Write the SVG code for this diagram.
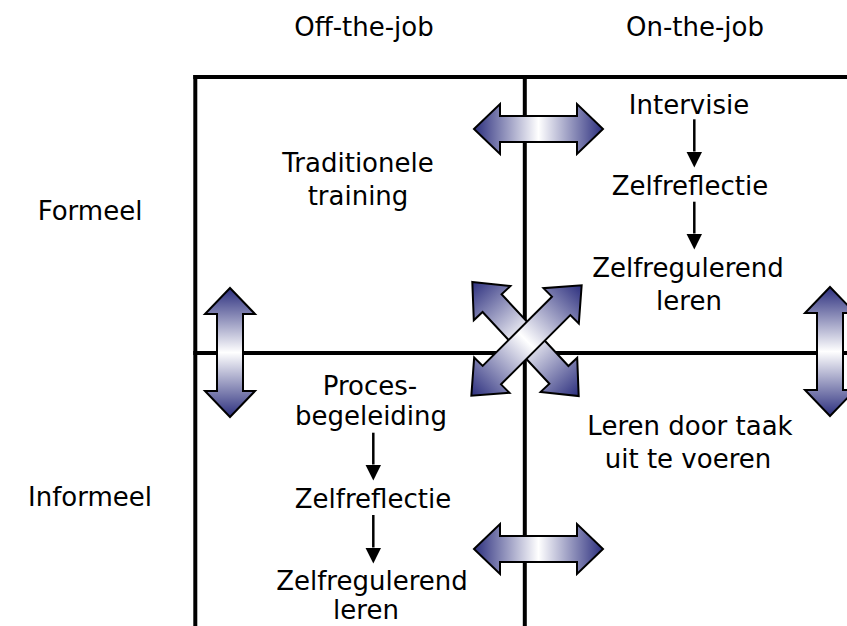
<svg xmlns="http://www.w3.org/2000/svg" xmlns:xlink="http://www.w3.org/1999/xlink" width="847" height="626" viewBox="0 0 847 626">
<style>
  .t { font-family: "DejaVu Sans", Verdana, sans-serif; font-size: 26px; fill: #000; text-anchor: middle; }
  .grid { stroke: #000; stroke-width: 4; fill: none; }
  .conn { stroke: #000; stroke-width: 2.5; fill: none; }
</style>
<defs>
  <linearGradient id="shade" x1="0" y1="0" x2="1" y2="0">
    <stop offset="0" stop-color="#2c2f7e"/>
    <stop offset="0.5" stop-color="#ffffff"/>
    <stop offset="1" stop-color="#2c2f7e"/>
  </linearGradient>
  <path id="dbl" d="M-64.5,0 L-38.5,-25 L-38.5,-13 L38.5,-13 L38.5,-25 L64.5,0 L38.5,25 L38.5,13 L-38.5,13 L-38.5,25 Z" fill="url(#shade)" stroke="#000" stroke-width="2" stroke-linejoin="miter"/>
  <path id="dbl2" d="M-78,0 L-49,-25 L-49,-13 L49,-13 L49,-25 L78,0 L49,25 L49,13 L-49,13 L-49,25 Z" fill="url(#shade)" stroke="#000" stroke-width="2" stroke-linejoin="miter"/>
  <marker id="head" markerUnits="userSpaceOnUse" markerWidth="16" markerHeight="16" refX="0" refY="8" orient="auto" viewBox="0 0 16 16">
    <path d="M0,0 L16,8 L0,16 Z" fill="#000"/>
  </marker>
</defs>
<rect width="847" height="626" fill="#fff"/>

<g id="grid">
  <line class="grid" x1="193.3" y1="77" x2="847" y2="77"/>
  <line class="grid" x1="195.3" y1="75" x2="195.3" y2="626"/>
  <line class="grid" x1="524.8" y1="77" x2="524.8" y2="626"/>
  <line class="grid" x1="193.3" y1="353" x2="847" y2="353"/>
</g>

<g id="col-off"><text class="t" x="364" y="36">Off-the-job</text></g>
<g id="col-on"><text class="t" x="695" y="36">On-the-job</text></g>
<g id="row-formeel"><text class="t" x="90" y="220">Formeel</text></g>
<g id="row-informeel"><text class="t" x="90" y="506">Informeel</text></g>

<g id="traditionele-training">
  <text class="t" x="358" y="172">Traditionele</text>
  <text class="t" x="358" y="205">training</text>
</g>
<g id="intervisie"><text class="t" x="689" y="114">Intervisie</text></g>
<g id="zelfreflectie-on"><text class="t" x="690" y="195">Zelfreflectie</text></g>
<g id="zelfregulerend-on">
  <text class="t" x="688" y="277">Zelfregulerend</text>
  <text class="t" x="689" y="310">leren</text>
</g>
<g id="procesbegeleiding">
  <text class="t" x="370" y="395">Proces-</text>
  <text class="t" x="371" y="425">begeleiding</text>
</g>
<g id="zelfreflectie-off"><text class="t" x="373" y="508">Zelfreflectie</text></g>
<g id="zelfregulerend-off">
  <text class="t" x="372" y="590">Zelfregulerend</text>
  <text class="t" x="366" y="619">leren</text>
</g>
<g id="leren-door-taak">
  <text class="t" x="690" y="435">Leren door taak</text>
  <text class="t" x="688" y="468">uit te voeren</text>
</g>

<g id="connectors">
  <line class="conn" x1="694.3" y1="119.3" x2="694.3" y2="151.5" marker-end="url(#head)"/>
  <line class="conn" x1="694.3" y1="201.7" x2="694.3" y2="233.5" marker-end="url(#head)"/>
  <line class="conn" x1="373.3" y1="432.7" x2="373.3" y2="464.5" marker-end="url(#head)"/>
  <line class="conn" x1="373.3" y1="515" x2="373.3" y2="547.5" marker-end="url(#head)"/>
  <use xlink:href="#dbl" transform="translate(538.5,129)"/>
  <use xlink:href="#dbl" transform="translate(538.5,549)"/>
  <use xlink:href="#dbl" transform="translate(230,352.5) rotate(90)"/>
  <use xlink:href="#dbl" transform="translate(830,351.5) rotate(90)"/>
  <use xlink:href="#dbl2" transform="translate(525.5,339) rotate(47)"/>
  <use xlink:href="#dbl2" transform="translate(526.5,340.5) rotate(-45)"/>
</g>
</svg>
